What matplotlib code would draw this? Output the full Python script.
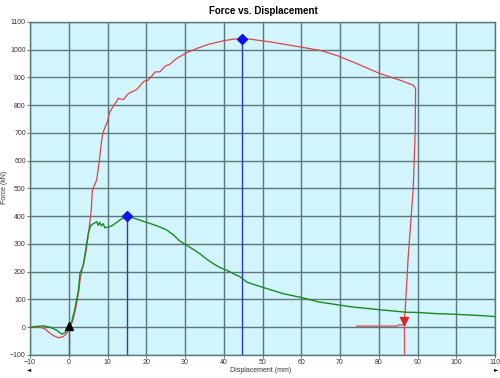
import matplotlib
matplotlib.use("Agg")
import matplotlib.pyplot as plt

# --- data ---
red_x = [-10, -7.4, -6.1, -5.2, -4, -2.7, -1.4, -0.5, 0.1, 0.9, 1.7, 2.6, 3, 3.9, 4.5, 5.2,
         5.8, 6.1, 7.2, 7.8, 8.5, 8.9, 9.95, 10.6, 11.5, 12.8, 14.1, 15.4, 17.5, 19.4, 20.5,
         22.3, 23.5, 25, 26.1, 27.8, 30.4, 33, 36, 39.9, 42.5, 44.6, 46.8, 52, 59.7, 65.3,
         69.6, 74.3, 80.3, 85.5, 88.9, 89.5, 89.4, 88.9, 87.6, 86.8, 86.5, 86.3, 85.3, 84.6, 74.3]
red_y = [0, 0, -6, -18, -30, -38, -34, -22, 0, 18, 60, 132, 178, 235, 277, 349,
         421, 494, 530, 590, 674, 704, 740, 776, 796, 824, 820, 842, 856, 886, 890,
         920, 920, 942, 947, 968, 989, 1004, 1019, 1032, 1038, 1040, 1038, 1028, 1010, 996,
         977, 950, 914, 890, 872, 860, 700, 500, 253, 55, 22, 8, 8, 4, 4]

green_x = [-10, -6.6, -4.8, -3.1, -1.8, -1, 0, 0.76, 1.6, 2.5, 2.9, 3.76, 4.45, 5.05, 5.66,
           6.5, 7.2, 7.6, 8, 8.4, 8.9, 9.3, 10.2, 11.1, 12.4, 13.7, 15.1, 16.6, 18.3, 20,
           21.8, 23.5, 25.2, 27, 28.7, 30.4, 32.1, 33.8, 35.6, 37.3, 39, 40.8, 42.5, 44.3,
           46, 50.2, 55.3, 60, 64.5, 68.8, 73.1, 77.4, 81.7, 86.9, 90.3, 94.6, 98.9, 103.2,
           107.5, 110]
green_y = [0, 5, 0, -11, -25, -20, 0, 19, 67, 133, 194, 223, 285, 338, 367,
           374, 380, 367, 378, 365, 373, 358, 361, 365, 378, 391, 400, 394, 386, 378,
           370, 361, 351, 333, 310, 295, 281, 265, 245, 229, 215, 205, 193, 181,
           162, 143, 121, 107, 91, 82, 73, 67, 61, 54, 53, 49, 47, 44,
           41, 38]

# picked points: (x, y, marker, colour)
pick_x = [0, 15, 44.6, 86.5]
pick_y = [5, 400, 1040, 22]
pick_marker = ["^", "D", "D", "v"]
pick_color = ["black", "#0a14e6", "#0a14e6", "#e0202a"]
pick_line = ["#606060", "#2a3ad0", "#2a3ad0", "#e05060"]

x_ticks = list(range(-10, 111, 10))
y_ticks = list(range(-100, 1101, 100))

BG = "#d2f4fc"
GRID = "#5a777c"

plt.rcParams["font.family"] = ["Liberation Sans", "DejaVu Sans"]

fig = plt.figure(figsize=(5, 3.78), dpi=100)
ax = fig.add_axes([0.06, 0.061, 0.93, 0.881], facecolor=BG)

for px, py, c in zip(pick_x, pick_y, pick_line):
    ax.plot([px, px], [-100, py], color=c, lw=1.0, zorder=2)

ax.plot(red_x, red_y, color="#d8464a", lw=0.9, zorder=3)
ax.plot(green_x, green_y, color="#1b8a22", lw=1.0, zorder=4)

for px, py, m, c in zip(pick_x, pick_y, pick_marker, pick_color):
    ax.plot(px, py, marker=m, color=c, ms=5 if m == "D" else 6, zorder=5)

ax.set_xlim(-10, 110)
ax.set_ylim(-100, 1100)
ax.set_xticks(x_ticks)
ax.set_yticks(y_ticks)
ax.grid(True, color=GRID, lw=1.0)
ax.set_axisbelow(True)
for s in ax.spines.values():
    s.set_color(GRID)
    s.set_linewidth(1.0)
ax.tick_params(labelsize=5, length=2, width=0.6, color="#555555",
               labelcolor="#333333", pad=1)

fig.suptitle("Force vs. Displacement", x=0.527, y=0.985, fontsize=7, fontweight="bold")
fig.text(0.522, 0.01, "Displacement (mm)", ha="center", va="bottom", fontsize=5, color="#333333")
fig.text(0.01, 0.505, "Force (kN)", ha="center", va="center", rotation=90,
         fontsize=5, color="#333333")
fig.text(0.058, 0.022, "\u25c4", ha="center", va="center", fontsize=4, color="black",
         family=["DejaVu Sans"])
fig.text(0.993, 0.022, "\u25ba", ha="center", va="center", fontsize=4, color="black",
         family=["DejaVu Sans"])

fig.savefig("out.png", dpi=100, facecolor="white")
